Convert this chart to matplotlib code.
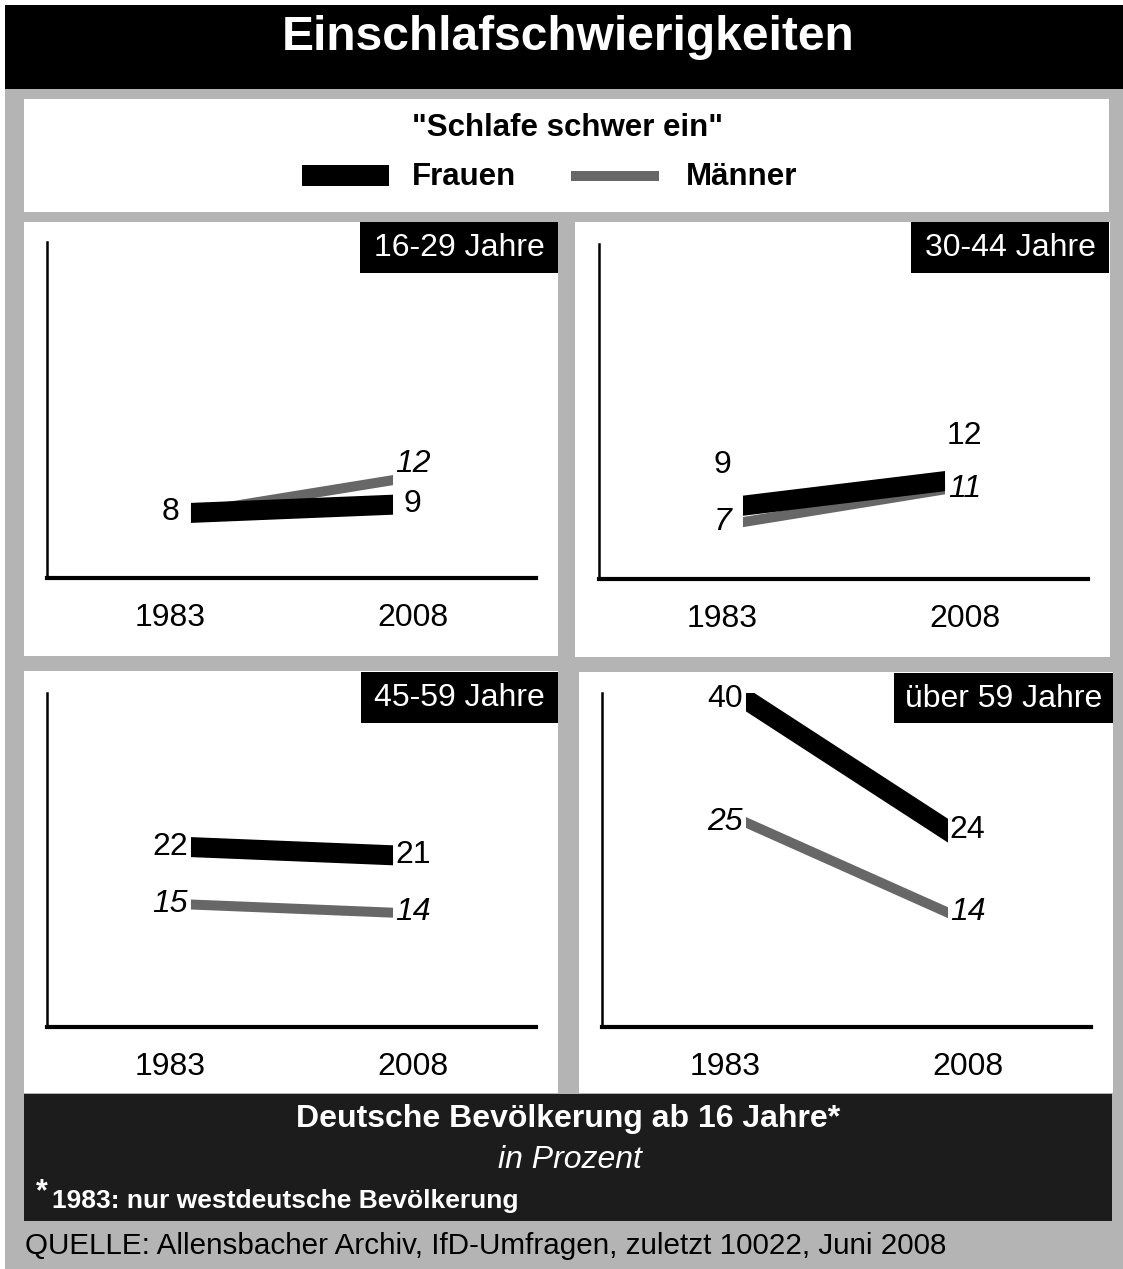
import math
import matplotlib
matplotlib.use("Agg")
import matplotlib.pyplot as plt
from matplotlib.patches import Rectangle

plt.rcParams['font.family'] = ['Liberation Sans', 'DejaVu Sans']

# data
years = ['1983', '2008']
groups = ['16-29 Jahre', '30-44 Jahre', '45-59 Jahre', 'über 59 Jahre']
frauen = [[8, 9], [9, 12], [22, 21], [40, 24]]
maenner = [[8, 12], [7, 11], [15, 14], [25, 14]]
# 1983 value for men 16-29 is not labelled in the original
maenner_show = [[False, True], [True, True], [True, True], [True, True]]

W, H = 1123, 1269
fig = plt.figure(figsize=(W / 100, H / 100), dpi=100)
fig.patch.set_facecolor('white')

BG = '#b4b4b4'
DARK = '#1c1c1c'
GREY = '#676767'


def rect(x0, y0, x1, y1, color, z=-2):
    fig.patches.append(Rectangle((x0 / W, 1 - y1 / H), (x1 - x0) / W, (y1 - y0) / H,
                                 transform=fig.transFigure, facecolor=color,
                                 edgecolor='none', zorder=z))


def ftext(x, y, s, **kw):
    fig.text(x / W, 1 - y / H, s, **kw)


# frame
rect(5, 88, W, H, BG)
rect(5, 5, W, 89, 'black')
ftext(568, 50, 'Einschlafschwierigkeiten', color='white', fontsize=34.5,
      fontweight='bold', ha='center', va='baseline')

# legend box
rect(24, 99, 1109, 212, 'white')
ftext(568, 136, '"Schlafe schwer ein"', fontsize=22.5, fontweight='bold',
      ha='center', va='baseline')
rect(302, 165, 389, 186, 'black', z=-1)
ftext(412, 185, 'Frauen', fontsize=22.5, fontweight='bold', va='baseline')
rect(571, 171, 659, 181, GREY, z=-1)
ftext(686, 185, 'Männer', fontsize=22.5, fontweight='bold', va='baseline')

# panels: white box, age tag box, axes rectangle (pixels)
panel_box = [(24, 222, 558, 656), (575, 222, 1110, 657),
             (24, 671, 558, 1093), (579, 672, 1113, 1093)]
tag_box = [(360, 222, 558, 273), (911, 222, 1109, 273),
           (361, 672, 558, 723), (894, 673, 1113, 723)]
ax_box = [(47, 242, 536, 578), (599, 244, 1088, 579),
          (47, 693, 536, 1027), (602, 693, 1091, 1027)]
# label offsets in points (vertical) for frauen / maenner
frauen_dy = [[0, 0], [29, 32], [0, 0], [0, 0]]
maenner_dy = [[0, 11], [0, 0], [0, 0], [0, 0]]

PX_PER_UNIT = 8.2
XLIM = (-0.71, 1.71)
tick_x = [-0.1, 1.1]
W_BLACK, W_GREY = 20, 10   # band width in pixels, measured across the band


def band(ax, vals, width_px, px_per_x, **kw):
    dy_px = (vals[1] - vals[0]) * PX_PER_UNIT
    slope = dy_px / px_per_x
    half = width_px / 2 * math.sqrt(1 + slope ** 2) / PX_PER_UNIT
    ax.fill_between([0, 1], [v - half for v in vals], [v + half for v in vals],
                    lw=0, **kw)


for i in range(4):
    rect(*panel_box[i], 'white')
    rect(*tag_box[i], 'black', z=-1)
    tx0, ty0, tx1, ty1 = tag_box[i]
    ftext((tx0 + tx1) / 2, (ty0 + ty1) / 2 + 1, groups[i], color='white',
          fontsize=23, ha='center', va='center')

    x0, y0, x1, y1 = ax_box[i]
    ax = fig.add_axes([x0 / W, 1 - y1 / H, (x1 - x0) / W, (y1 - y0) / H])
    ax.set_facecolor('none')
    ax.set_xlim(*XLIM)
    ax.set_ylim(0, (y1 - y0) / PX_PER_UNIT)
    for s in ['top', 'right']:
        ax.spines[s].set_visible(False)
    ax.spines['left'].set_linewidth(1.8)
    ax.spines['bottom'].set_linewidth(3)
    ax.set_yticks([])
    ax.set_xticks(tick_x)
    ax.set_xticklabels(years, fontsize=23)
    ax.tick_params(axis='x', length=0, pad=18)

    px_per_x = (x1 - x0) / (XLIM[1] - XLIM[0])
    m = maenner[i]
    f = frauen[i]
    band(ax, m, W_GREY, px_per_x, color=GREY, zorder=2)
    band(ax, f, W_BLACK, px_per_x, color='black', zorder=3)

    for j in range(2):
        ax.annotate(str(f[j]), (tick_x[j], f[j]), xytext=(0, frauen_dy[i][j]),
                    textcoords='offset points', ha='center', va='center',
                    fontsize=23, zorder=5,
                    bbox=dict(facecolor='white', edgecolor='none', pad=1))
        if maenner_show[i][j]:
            ax.annotate(str(m[j]), (tick_x[j], m[j]), xytext=(0, maenner_dy[i][j]),
                        textcoords='offset points', ha='center', va='center',
                        fontsize=23, style='italic', zorder=5,
                        bbox=dict(facecolor='white', edgecolor='none', pad=1))

# footer
rect(24, 1094, 1112, 1221, DARK)
ftext(568, 1127, 'Deutsche Bevölkerung ab 16 Jahre*', color='white', fontsize=23,
      fontweight='bold', ha='center', va='baseline')
ftext(570, 1168, 'in Prozent', color='white', fontsize=23, style='italic',
      ha='center', va='baseline')
ftext(36, 1200, '*', color='white', fontsize=22, fontweight='bold', va='baseline')
ftext(52, 1208, '1983: nur westdeutsche Bevölkerung', color='white', fontsize=19,
      fontweight='bold', va='baseline')
ftext(25, 1254, 'QUELLE: Allensbacher Archiv, IfD-Umfragen, zuletzt 10022, Juni 2008',
      fontsize=21.3, va='baseline')

fig.savefig('out.png', dpi=100)
